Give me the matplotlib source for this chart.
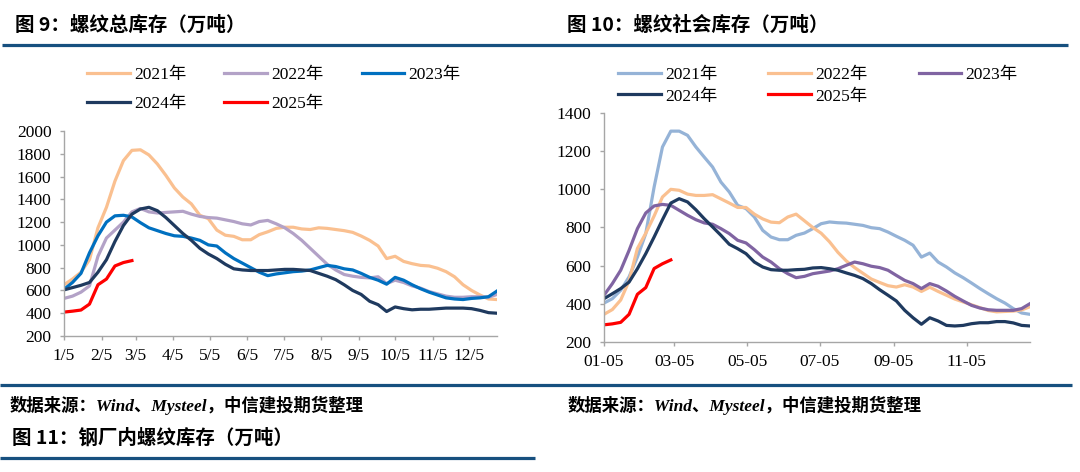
import numpy as np
import matplotlib
matplotlib.use('Agg')
import matplotlib.pyplot as plt
from matplotlib.lines import Line2D

plt.rcParams['font.family'] = ['Liberation Serif', 'Noto Sans CJK SC']

years = ['2021年', '2022年', '2023年', '2024年', '2025年']

# 图9：螺纹总库存（万吨），周度
total_2021 = [650, 700, 760, 870, 1150, 1330, 1560, 1740, 1830, 1835, 1790, 1710, 1610, 1500,
              1420, 1360, 1260, 1230, 1130, 1085, 1075, 1045, 1045, 1090, 1115, 1145, 1155, 1155,
              1140, 1135, 1150, 1145, 1135, 1125, 1110, 1078, 1040, 990, 880, 900, 855, 835,
              820, 815, 795, 765, 720, 650, 600, 560, 525, 520]
total_2022 = [530, 550, 585, 640, 900, 1060, 1130, 1200, 1290, 1320, 1290, 1280, 1285, 1290,
              1295, 1270, 1250, 1240, 1235, 1220, 1205, 1185, 1175, 1205, 1215, 1185, 1150, 1100,
              1040, 970, 900, 830, 780, 740, 725, 715, 710, 720, 660, 690, 670, 640,
              620, 590, 570, 550, 540, 540, 545, 545, 540, 565]
total_2023 = [610, 670, 750, 930, 1080, 1200, 1255, 1260, 1245, 1195, 1150, 1125, 1100, 1080,
              1075, 1060, 1040, 1000, 990, 930, 880, 840, 800, 760, 730, 745, 755, 765,
              770, 780, 800, 820, 810, 790, 780, 750, 715, 690, 655, 715, 690, 650,
              615, 585, 560, 535, 525, 520, 530, 535, 545, 595]
total_2024 = [605, 625, 645, 670, 760, 870, 1030, 1170, 1270, 1315, 1330, 1300, 1240, 1170,
              1100, 1040, 970, 920, 880, 830, 790, 780, 775, 775, 775, 780, 785, 785,
              780, 775, 750, 725, 695, 650, 600, 565, 505, 475, 415, 455, 440, 430,
              435, 435, 440, 445, 445, 445, 440, 425, 405, 400]
total_2025 = [410, 418, 428, 480, 650, 700, 815, 845, 862]

# 图10：螺纹社会库存（万吨），周度
social_2021 = [404, 427, 471, 541, 645, 768, 1012, 1222, 1305, 1305, 1283, 1222, 1169, 1117,
               1038, 986, 916, 899, 855, 785, 750, 736, 736, 759, 771, 794, 820, 829,
               825, 823, 817, 811, 799, 794, 776, 754, 733, 707, 645, 666, 619, 593,
               562, 537, 509, 480, 453, 427, 404, 375, 352, 345]
social_2022 = [345, 370, 420, 520, 690, 770, 860, 960, 1000, 995, 975, 968, 968, 972,
               950, 928, 905, 905, 870, 845, 828, 825, 855, 870, 835, 800, 770, 725,
               670, 625, 590, 560, 530, 512, 495, 488, 500, 488, 465, 487, 465, 445,
               425, 410, 395, 380, 365, 358, 360, 362, 368, 385]
social_2023 = [445, 506, 576, 680, 794, 876, 913, 921, 916, 890, 864, 841, 824, 817,
               794, 768, 733, 719, 684, 645, 619, 584, 558, 537, 544, 558, 565, 572,
               584, 602, 619, 610, 597, 590, 576, 549, 523, 506, 480, 506, 492, 467,
               439, 415, 392, 378, 369, 366, 366, 366, 375, 401]
social_2024 = [427, 453, 480, 514, 584, 663, 750, 841, 928, 951, 934, 893, 846, 803,
               759, 712, 689, 663, 619, 593, 579, 576, 576, 579, 581, 588, 590, 584,
               576, 562, 549, 532, 506, 474, 445, 415, 366, 327, 293, 327, 310, 287,
               284, 287, 296, 301, 301, 307, 307, 300, 287, 284]
social_2025 = [290, 295, 303, 345, 450, 485, 585, 610, 630]

colors_total = ['#FAC090', '#B3A2C7', '#0070C0', '#1F3A5F', '#FF0000']
colors_social = ['#95B3D7', '#FAC090', '#8064A2', '#1F3A5F', '#FF0000']

# x 轴：距 1 月 5 日的天数
ticks_total_days = [0, 31, 59, 90, 120, 151, 181, 212, 243, 273, 304, 334]
ticks_total_labels = ['1/5', '2/5', '3/5', '4/5', '5/5', '6/5', '7/5', '8/5', '9/5', '10/5', '11/5', '12/5']
ticks_social_days = [0, 59, 120, 181, 243, 304]
ticks_social_labels = ['01-05', '03-05', '05-05', '07-05', '09-05', '11-05']

W, H = 1080, 472
fig = plt.figure(figsize=(W / 100, H / 100), dpi=100)
BLUE = '#17507F'
CJK = ['Noto Sans CJK SC']


def px_axes(left, top, right, bottom):
    return fig.add_axes([left / W, 1 - bottom / H, (right - left) / W, (bottom - top) / H])


def hline(x0, x1, y, lw=2.3):
    fig.add_artist(Line2D([x0 / W, x1 / W], [1 - y / H] * 2, transform=fig.transFigure,
                          color=BLUE, lw=lw, solid_capstyle='butt'))


def draw(ax, series, colors, tdays, tlabels, ylim, leg_xy, colspace, rowspace):
    handles = []
    for vals, c, lab in zip(series, colors, years):
        h, = ax.plot(np.arange(len(vals)), vals, color=c, lw=2.3, label=lab)
        handles.append(h)
    ax.set_xlim(0, 51)
    ax.set_ylim(*ylim)
    ax.set_yticks(np.arange(ylim[0], ylim[1] + 1, 200))
    ax.set_xticks(np.array(tdays) / 7)
    ax.set_xticklabels(tlabels)
    for s in ['top', 'right']:
        ax.spines[s].set_visible(False)
    for s in ['left', 'bottom']:
        ax.spines[s].set_color('#A6A6A6')
        ax.spines[s].set_linewidth(1)
    ax.tick_params(direction='out', length=3, width=1, color='#A6A6A6', labelsize=12.5)
    ax.tick_params(axis='y', pad=6)
    ax.tick_params(axis='x', pad=6)
    order = [0, 3, 1, 4, 2]
    ax.legend([handles[i] for i in order], [years[i] for i in order],
              loc='upper left', bbox_to_anchor=(leg_xy[0] / W, 1 - leg_xy[1] / H),
              bbox_transform=fig.transFigure, ncol=3, frameon=False, fontsize=12.5,
              handlelength=2.45, handletextpad=0.25, columnspacing=colspace,
              labelspacing=rowspace, borderpad=0, borderaxespad=0)


ax1 = px_axes(64, 131, 497, 336)
draw(ax1, [total_2021, total_2022, total_2023, total_2024, total_2025], colors_total,
     ticks_total_days, ticks_total_labels, (200, 2000), (87, 67), 2.2, 0.75)

ax2 = px_axes(604, 113, 1030, 342)
draw(ax2, [social_2021, social_2022, social_2023, social_2024, social_2025], colors_social,
     ticks_social_days, ticks_social_labels, (200, 1400), (618, 67), 2.95, 0.3)

# 标题与分隔线
fig.text(15 / W, 1 - 25 / H, '图 9：螺纹总库存（万吨）', family=CJK, fontsize=14,
         fontweight='bold', va='center', ha='left')
fig.text(567 / W, 1 - 25 / H, '图 10：螺纹社会库存（万吨）', family=CJK, fontsize=14,
         fontweight='bold', va='center', ha='left')
hline(2, 1068, 45)
hline(0, 1072, 385)
hline(0, 535, 458)

src = '数据来源：Wind、Mysteel，中信建投期货整理'
fig.text(10 / W, 1 - 405 / H, src, family=['Liberation Serif', 'Noto Sans CJK SC'],
         style='italic', fontweight='bold', fontsize=12.5, va='center', ha='left')
fig.text(568 / W, 1 - 405 / H, src, family=['Liberation Serif', 'Noto Sans CJK SC'],
         style='italic', fontweight='bold', fontsize=12.5, va='center', ha='left')
fig.text(12 / W, 1 - 438 / H, '图 11：钢厂内螺纹库存（万吨）', family=CJK, fontsize=14,
         fontweight='bold', va='center', ha='left')

fig.savefig('out.png', dpi=100)
